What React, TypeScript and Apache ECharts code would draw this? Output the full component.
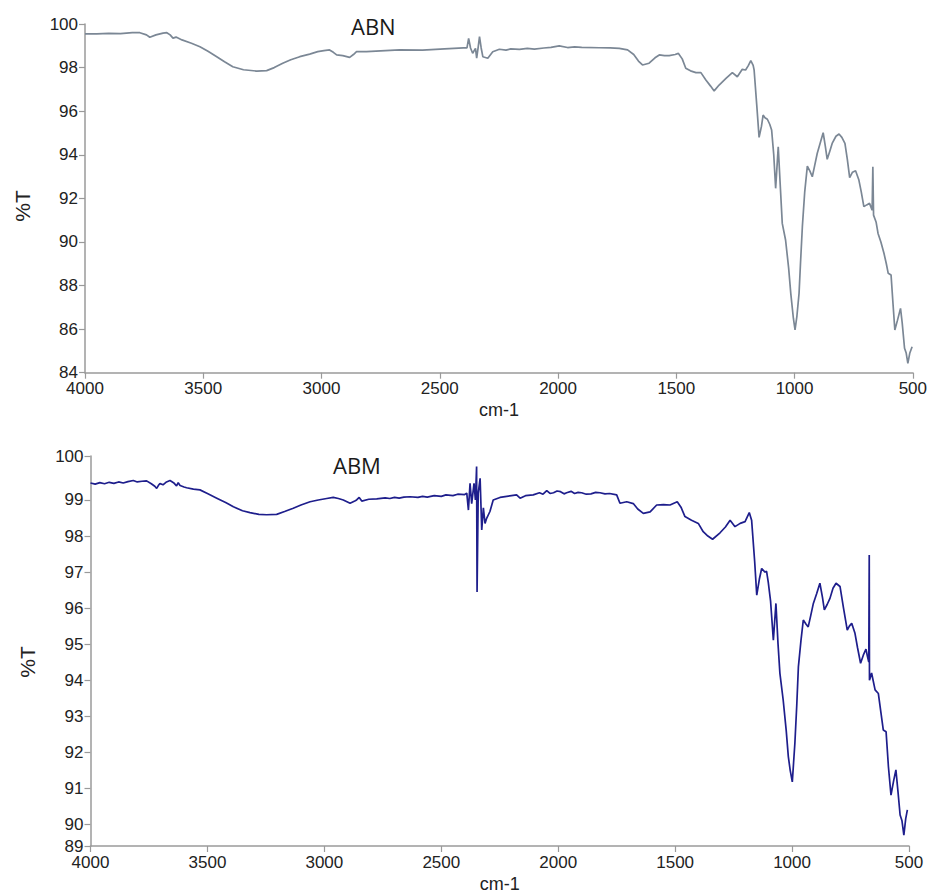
import React, { useEffect, useRef } from "react";
import * as echarts from "echarts";

// ---- ABN spectrum (top) ----
const abnWavenumber = [
  4000, 3950, 3900, 3850, 3800, 3768, 3740, 3726, 3700, 3670, 3654, 3640, 3628, 3615, 3590, 3550, 3514, 3480,
  3443, 3410, 3375, 3330, 3274, 3232, 3200, 3164, 3130, 3092, 3050, 3016, 2990, 2966, 2950, 2936, 2910, 2881,
  2865, 2852, 2810, 2750, 2670, 2573, 2480, 2400, 2385, 2378, 2370, 2361, 2349, 2344, 2338, 2332, 2325, 2318,
  2297, 2276, 2248, 2220, 2200, 2163, 2130, 2100, 2060, 2030, 1995, 1960, 1930, 1900, 1826, 1780, 1741, 1706,
  1680, 1660, 1643, 1615, 1590, 1572, 1550, 1530, 1505, 1491, 1475, 1460, 1440, 1417, 1396, 1375, 1355, 1340,
  1319, 1290, 1263, 1242, 1221, 1207, 1195, 1185, 1175, 1171, 1160, 1150, 1140, 1133, 1125, 1115, 1105, 1097,
  1088, 1080, 1069, 1060, 1052, 1038, 1025, 1016, 1005, 998, 990, 981, 975, 967, 957, 946, 935, 925, 915, 904,
  890, 879, 870, 862, 850, 841, 825, 812, 800, 787, 777, 767, 755, 742, 728, 718, 707, 695, 683, 672, 669, 666,
  655, 647, 635, 622, 612, 604, 592, 584, 576, 565, 552, 545, 535, 528, 521, 513, 503,
];
const abnTransmittance = [
  99.55, 99.55, 99.57, 99.56, 99.6, 99.6, 99.5, 99.39, 99.5, 99.58, 99.6, 99.5, 99.35, 99.4, 99.27, 99.12, 98.96, 98.75,
  98.5, 98.27, 98.04, 97.9, 97.84, 97.86, 98.0, 98.2, 98.36, 98.5, 98.62, 98.73, 98.78, 98.81, 98.7, 98.58, 98.55, 98.47,
  98.6, 98.73, 98.73, 98.77, 98.81, 98.8, 98.86, 98.9, 98.9, 99.34, 98.9, 98.66, 98.88, 98.43, 98.9, 99.42, 98.9, 98.5,
  98.43, 98.73, 98.84, 98.8, 98.86, 98.84, 98.88, 98.85, 98.9, 98.93, 99.0, 98.92, 98.95, 98.93, 98.91, 98.9, 98.88, 98.81,
  98.6, 98.3, 98.12, 98.2, 98.45, 98.58, 98.55, 98.55, 98.6, 98.65, 98.4, 97.97, 97.85, 97.77, 97.77, 97.43, 97.15, 96.93,
  97.2, 97.5, 97.77, 97.58, 97.92, 97.89, 98.1, 98.32, 98.1, 97.89, 96.3, 94.8, 95.3, 95.82, 95.7, 95.63, 95.4, 95.14,
  94.0, 92.46, 94.37, 92.5, 90.85, 90.09, 88.8, 87.64, 86.5, 85.96, 86.6, 87.64, 89.0, 90.7, 92.3, 93.48, 93.25, 92.99, 93.5, 94.07,
  94.6, 95.01, 94.4, 93.79, 94.2, 94.52, 94.85, 94.95, 94.8, 94.52, 93.8, 92.95, 93.2, 93.27, 92.84, 92.3, 91.62, 91.7, 91.77, 91.46, 93.45, 91.23,
  90.9, 90.39, 90.0, 89.48, 89.0, 88.56, 88.48, 87.2, 85.96, 86.4, 86.95, 86.3, 85.12, 84.9, 84.43, 84.89, 85.19,
];

// ---- ABM spectrum (bottom) ----
const abmWavenumber = [
  4000, 3980, 3960, 3940, 3920, 3900, 3880, 3860, 3840, 3817, 3800, 3780, 3760, 3740, 3725, 3717, 3710, 3703,
  3690, 3675, 3660, 3645, 3632, 3625, 3617, 3600, 3589, 3560, 3532, 3500, 3460, 3420, 3389, 3350, 3318, 3280,
  3247, 3204, 3170, 3133, 3100, 3061, 3026, 2990, 2962, 2940, 2919, 2890, 2870, 2862, 2851, 2840, 2810, 2776,
  2740, 2720, 2700, 2680, 2660, 2634, 2600, 2580, 2560, 2530, 2500, 2480, 2450, 2430, 2400, 2391, 2384, 2377,
  2370, 2360, 2354, 2349, 2347, 2342, 2334, 2327, 2320, 2313, 2306, 2292, 2278, 2249, 2220, 2200, 2178, 2163,
  2140, 2107, 2080, 2065, 2049, 2035, 2020, 2005, 1990, 1975, 1964, 1945, 1930, 1915, 1900, 1880, 1860, 1840,
  1821, 1800, 1780, 1750, 1736, 1707, 1679, 1660, 1636, 1607, 1579, 1550, 1522, 1491, 1475, 1458, 1430, 1401,
  1380, 1360, 1340, 1308, 1285, 1265, 1244, 1222, 1201, 1183, 1173, 1160, 1151, 1140, 1130, 1116, 1109, 1102,
  1092, 1080, 1069, 1060, 1052, 1038, 1025, 1016, 1008, 999, 988, 980, 973, 962, 952, 940, 931, 920, 909, 895,
  881, 870, 862, 850, 838, 825, 812, 795, 780, 764, 755, 745, 731, 720, 707, 695, 684, 678, 672, 670, 669, 660,
  645, 631, 620, 610, 598, 588, 577, 566, 556, 547, 538, 530, 522, 514, 507,
];
const abmTransmittance = [
  99.47, 99.44, 99.48, 99.45, 99.49, 99.46, 99.5, 99.47, 99.51, 99.54, 99.5, 99.52, 99.53, 99.45, 99.38, 99.32, 99.4, 99.46,
  99.42, 99.5, 99.54, 99.48, 99.39, 99.48, 99.4, 99.36, 99.34, 99.3, 99.28, 99.18, 99.05, 98.92, 98.81, 98.7, 98.65, 98.6,
  98.59, 98.6, 98.68, 98.77, 98.86, 98.95, 99.0, 99.04, 99.07, 99.04, 99.0, 98.91, 98.97, 99.0, 99.07, 98.97, 99.02, 99.03,
  99.06, 99.04, 99.07, 99.05, 99.08, 99.09, 99.07, 99.1, 99.08, 99.12, 99.1, 99.14, 99.12, 99.16, 99.15, 99.19, 98.72, 99.46,
  98.9, 99.46, 99.0, 99.93, 96.45, 99.19, 99.6, 98.17, 98.78, 98.35, 98.49, 98.68, 99.0, 99.07, 99.1, 99.12, 99.14, 99.05,
  99.12, 99.14, 99.2, 99.16, 99.26, 99.18, 99.2, 99.25, 99.23, 99.17, 99.2, 99.24, 99.18, 99.21, 99.2, 99.16, 99.17, 99.21,
  99.2, 99.17, 99.18, 99.14, 98.91, 98.95, 98.9, 98.75, 98.63, 98.67, 98.86, 98.87, 98.86, 98.95, 98.8, 98.54, 98.44, 98.35,
  98.12, 98.0, 97.91, 98.09, 98.25, 98.44, 98.26, 98.35, 98.4, 98.65, 98.44, 97.3, 96.36, 96.8, 97.1, 97.0, 97.02, 96.73,
  96.2, 95.11, 96.13, 95.0, 94.19, 93.45, 92.6, 91.88, 91.5, 91.18, 92.25, 93.3, 94.37, 95.1, 95.67, 95.55, 95.48, 95.8, 96.13, 96.4,
  96.69, 96.3, 95.95, 96.1, 96.27, 96.55, 96.69, 96.6, 96.0, 95.39, 95.5, 95.58, 95.3, 94.9, 94.47, 94.7, 94.86, 94.67, 94.5, 97.47, 94.0, 94.2,
  93.73, 93.63, 93.1, 92.62, 92.57, 91.6, 90.81, 91.2, 91.51, 90.9, 90.26, 90.1, 89.7, 90.16, 90.4,
];

// ---- axis ticks ----
const xMin = 500;
const xMax = 4000;
const xInterval = 500;
const abnYMin = 84;
const abnYMax = 100;
const abnYInterval = 2;
const abmYMin = 89.4;
const abmYMax = 100.22;
const abmTickValues = [89.4, 90, 91, 92, 93, 94, 95, 96, 97, 98, 99, 100.22];

const zip = (xs: number[], ys: number[]) => xs.map((x, i) => [x, ys[i]]);

const axisGray = "#9a9a9a";
const labelColor = "#222222";
const tickFont = {
  fontFamily: "Liberation Sans, Arial, sans-serif",
  fontSize: 17,
  lineHeight: 14,
  color: labelColor,
};

export default function App() {
  const ref = useRef<HTMLDivElement>(null);
  useEffect(() => {
    if (!ref.current) return;
    const chart = echarts.init(ref.current, undefined, { renderer: "svg" });
    const xAxisBase = {
      type: "value",
      min: xMin,
      max: xMax,
      interval: xInterval,
      inverse: true,
      splitLine: { show: false },
      axisLine: { lineStyle: { color: axisGray, width: 1.5 } },
      axisTick: { show: true, length: 6, lineStyle: { color: axisGray, width: 1.2 } },
      axisLabel: { ...tickFont, margin: 9, formatter: (v: number) => String(v) },
      name: "cm-1",
      nameLocation: "middle",
      nameTextStyle: { fontFamily: "Liberation Sans, Arial, sans-serif", fontSize: 18, color: labelColor },
    };
    chart.setOption({
      animation: false,
      backgroundColor: "#ffffff",
      grid: [
        { left: 85, right: 16, top: 24, height: 348.7 },
        { left: 90.5, right: 21, top: 456, height: 390 },
      ],
      xAxis: [
        { ...xAxisBase, gridIndex: 0, nameGap: 28 },
        { ...xAxisBase, gridIndex: 1, nameGap: 29 },
      ],
      yAxis: [
        {
          type: "value",
          gridIndex: 0,
          min: abnYMin,
          max: abnYMax,
          interval: abnYInterval,
          splitLine: { show: false },
          axisLine: { show: true, lineStyle: { color: axisGray, width: 1.5 } },
          axisTick: { show: true, length: 6, lineStyle: { color: axisGray, width: 1.2 } },
          axisLabel: { ...tickFont, margin: 7 },
        },
        {
          type: "value",
          gridIndex: 1,
          min: abmYMin,
          max: abmYMax,
          splitLine: { show: false },
          axisLine: { show: true, lineStyle: { color: axisGray, width: 1.5 } },
          axisTick: {
            show: true,
            length: 6,
            customValues: abmTickValues,
            lineStyle: { color: axisGray, width: 1.2 },
          },
          axisLabel: {
            ...tickFont,
            margin: 7,
            customValues: abmTickValues,
            formatter: (v: number) => String(Math.round(v)),
          },
        },
      ],
      series: [
        {
          type: "line",
          xAxisIndex: 0,
          yAxisIndex: 0,
          data: zip(abnWavenumber, abnTransmittance),
          showSymbol: false,
          symbol: "none",
          lineStyle: { color: "#7b8795", width: 1.7 },
        },
        {
          type: "line",
          xAxisIndex: 1,
          yAxisIndex: 1,
          data: zip(abmWavenumber, abmTransmittance),
          showSymbol: false,
          symbol: "none",
          lineStyle: { color: "#1e1e8c", width: 1.7 },
        },
      ],
      graphic: [
        {
          type: "text",
          left: 351,
          top: 15,
          style: { text: "ABN", fontFamily: "Open Sans, sans-serif", fontSize: 22, fill: "#1a1a1a" },
        },
        {
          type: "text",
          left: 333,
          top: 454,
          style: { text: "ABM", fontFamily: "Open Sans, sans-serif", fontSize: 22, fill: "#1a1a1a" },
        },
        {
          type: "text",
          x: 22,
          y: 206,
          rotation: Math.PI / 2,
          style: {
            text: "%T",
            fontFamily: "Liberation Sans, Arial, sans-serif",
            fontSize: 21,
            fill: labelColor,
            align: "center",
            verticalAlign: "middle",
          },
        },
        {
          type: "text",
          x: 27,
          y: 662,
          rotation: Math.PI / 2,
          style: {
            text: "%T",
            fontFamily: "Liberation Sans, Arial, sans-serif",
            fontSize: 21,
            fill: labelColor,
            align: "center",
            verticalAlign: "middle",
          },
        },
      ],
    });
    return () => chart.dispose();
  }, []);
  return (
    <div
      ref={ref}
      style={{ position: "absolute", left: 0, top: 0, width: 930, height: 894, background: "#fff" }}
    />
  );
}
